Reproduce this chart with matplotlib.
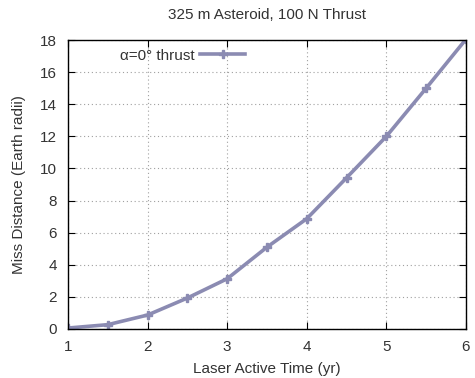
import matplotlib
matplotlib.use("Agg")
import matplotlib.pyplot as plt

# laser active time (yr) vs miss distance (Earth radii)
years = [1.0, 1.5, 2.0, 2.5, 3.0, 3.5, 4.0, 4.5, 5.0, 5.5, 6.0]
miss = [0.06, 0.27, 0.87, 1.93, 3.13, 5.1, 6.87, 9.42, 12.0, 15.0, 18.05]

xticks = [1, 2, 3, 4, 5, 6]
yticks = [0, 2, 4, 6, 8, 10, 12, 14, 16, 18]

line_col = "#8b8bb2"
text_col = "#333333"

plt.rcParams["font.family"] = ["Liberation Sans", "DejaVu Sans"]

fig = plt.figure(figsize=(4.75, 3.78), dpi=100)
ax = fig.add_axes([68 / 475, 1 - 329 / 378, 398 / 475, 289 / 378])

ax.plot(years, miss, color=line_col, lw=2.6, marker="P", ms=6,
        mec=line_col, mfc=line_col, label="α=0° thrust", clip_on=True)

ax.set_xlim(1, 6)
ax.set_ylim(0, 18)
ax.set_xticks(xticks)
ax.set_yticks(yticks)
ax.grid(True, color="#a0a0a0", ls=(0, (1, 2.5)), lw=0.8)
ax.tick_params(direction="in", top=True, right=True, length=5,
               labelsize=11, labelcolor=text_col, pad=8)
for s in ax.spines.values():
    s.set_linewidth(1.0)

ax.set_xlabel("Laser Active Time (yr)", fontsize=11, color=text_col, labelpad=6)
ax.set_ylabel("Miss Distance (Earth radii)", fontsize=11, color=text_col, labelpad=10)
ax.set_title("325 m Asteroid, 100 N Thrust", fontsize=11, color=text_col, pad=15)

ax.legend(loc="upper left", bbox_to_anchor=(0.13, 0.97), frameon=False,
          markerfirst=False, fontsize=11, handlelength=2.9,
          handletextpad=0.4, borderpad=0, borderaxespad=0,
          labelcolor=text_col)

fig.savefig("out.png", dpi=100)
